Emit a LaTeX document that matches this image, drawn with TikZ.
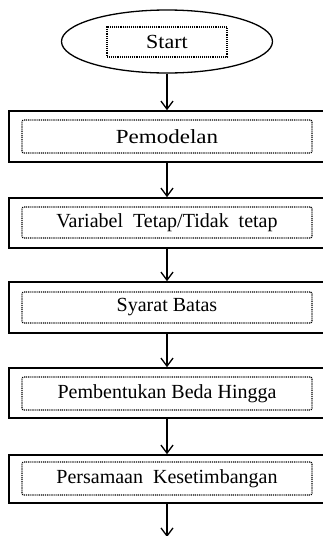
\documentclass[tikz,border=0pt]{standalone}
\usepackage{fontspec}
\setmainfont{Liberation Serif}
\usetikzlibrary{shapes.geometric,arrows.meta}
\begin{document}
\begin{tikzpicture}[x=1pt,y=-1pt,
  outerbox/.style={draw,line width=1.6pt,minimum width=316pt,inner sep=0pt},
  innerbox/.style={draw,dash pattern=on 1pt off 0.9pt,line width=1.3pt,rounded corners=2pt,minimum width=290pt,inner sep=0pt,font=\fontsize{20}{22}\selectfont},
  flow/.style={line width=1.4pt,-{Straight Barb[length=8pt,width=12pt,line width=1.3pt]}}]
\useasboundingbox (0,0) rectangle (323,536);
\clip (0,0) rectangle (323,536);
% start
\node[ellipse,draw,line width=1.3pt,minimum width=211pt,minimum height=63pt,inner sep=0pt] (e) at (167,41.5) {};
\node[draw,dash pattern=on 1pt off 0.9pt,line width=1.3pt,minimum width=120pt,minimum height=30pt,inner sep=0pt,font=\fontsize{20}{22}\selectfont] (s) at (167,42) {\scalebox{1.1}[1]{Start}};
% boxes
\node[outerbox,minimum height=51pt] (b1) at (167,136.5) {};
\node[innerbox,minimum height=33pt] (i1) at (167,136.5) {\scalebox{1.15}[1]{Pemodelan}};
\node[outerbox,minimum height=50pt] (b2) at (167,223) {};
\node[innerbox,minimum height=31pt] (i2) at (167,222.5) {Variabel\ \ Tetap/Tidak\ \ tetap};
\node[outerbox,minimum height=51pt] (b3) at (167,307.5) {};
\node[innerbox,minimum height=31pt] (i3) at (167,307.5) {Syarat Batas};
\node[outerbox,minimum height=50pt] (b4) at (167,393) {};
\node[innerbox,minimum height=33pt] (i4) at (167,393.5) {Pembentukan Beda Hingga};
\node[outerbox,minimum height=48pt] (b5) at (167,479) {};
\node[innerbox,minimum height=33pt] (i5) at (167,478.5) {Persamaan\ \ Kesetimbangan};
\coordinate (end) at (167,537);
% connectors
\draw[flow] (e.south) -- (b1.north);
\draw[flow] (b1.south) -- (b2.north);
\draw[flow] (b2.south) -- (b3.north);
\draw[flow] (b3.south) -- (b4.north);
\draw[flow] (b4.south) -- (b5.north);
\draw[flow] (b5.south) -- (end);
\end{tikzpicture}
\end{document}
